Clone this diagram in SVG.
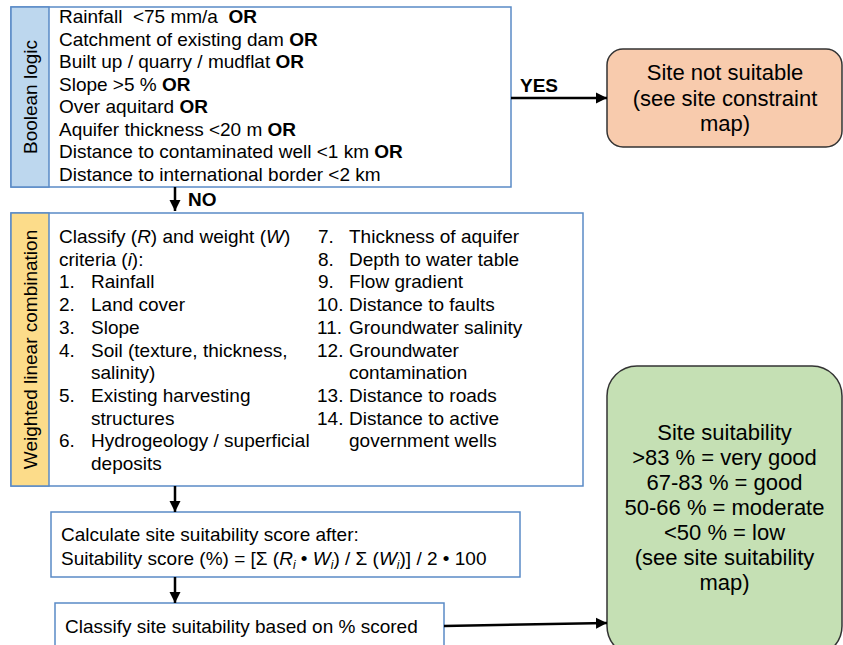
<svg xmlns="http://www.w3.org/2000/svg" width="843" height="645" viewBox="0 0 843 645">
<style>
text{font-family:"Liberation Sans",Arial,sans-serif;fill:#000;white-space:pre}
.t{font-size:19px}
.b{font-weight:bold}
.big{font-size:22px;text-anchor:middle}
.box{fill:#fff;stroke:#5a8ac6;stroke-width:1.5}
.blue{fill:#bdd7ee;stroke:#5a8ac6;stroke-width:1.5}
.yel{fill:#fcdc8a;stroke:#5a8ac6;stroke-width:1.5}
.round{stroke:#333;stroke-width:1.5}
.arr{stroke:#000;stroke-width:2.5;fill:none;marker-end:url(#ah)}
</style>
<defs>
<marker id="ah" markerUnits="userSpaceOnUse" markerWidth="12" markerHeight="12" viewBox="0 0 12 12" refX="11" refY="6" orient="auto">
<path d="M0,0.5 L11,6 L0,11.5 Z" fill="#000"/>
</marker>
</defs>
<rect width="843" height="645" fill="#fff"/>

<g id="boolean">
<rect class="box" x="11" y="7" width="500" height="180"/>
<rect class="blue" x="11" y="7" width="38" height="180"/>
<text class="t" transform="translate(37,97) rotate(-90)" text-anchor="middle">Boolean logic</text>
<text class="t" x="59" y="23">Rainfall  &lt;75 mm/a  <tspan class="b">OR</tspan></text>
<text class="t" x="59" y="45.5">Catchment of existing dam <tspan class="b">OR</tspan></text>
<text class="t" x="59" y="68">Built up / quarry / mudflat <tspan class="b">OR</tspan></text>
<text class="t" x="59" y="90.5">Slope &gt;5 % <tspan class="b">OR</tspan></text>
<text class="t" x="59" y="113">Over aquitard <tspan class="b">OR</tspan></text>
<text class="t" x="59" y="135.5">Aquifer thickness &lt;20 m <tspan class="b">OR</tspan></text>
<text class="t" x="59" y="158">Distance to contaminated well &lt;1 km <tspan class="b">OR</tspan></text>
<text class="t" x="59" y="180.5">Distance to international border &lt;2 km</text>
</g>

<g id="not-suitable">
<rect class="round" x="607" y="49" width="235" height="98" rx="16" fill="#f8cbad"/>
<text class="big" x="725" y="80">Site not suitable</text>
<text class="big" x="725" y="106">(see site constraint</text>
<text class="big" x="725" y="131">map)</text>
</g>

<g id="wlc">
<rect class="box" x="11" y="213" width="572" height="273"/>
<rect class="yel" x="11" y="213" width="38" height="273"/>
<text class="t" transform="translate(37,349.5) rotate(-90)" text-anchor="middle">Weighted linear combination</text>
<text class="t" x="59" y="243">Classify (<tspan font-style="italic">R</tspan>) and weight (<tspan font-style="italic">W</tspan>)</text>
<text class="t" x="59" y="265.7">criteria (<tspan font-style="italic">i</tspan>):</text>
<text class="t" x="59" y="288.4">1.</text><text class="t" x="91" y="288.4">Rainfall</text>
<text class="t" x="59" y="311.1">2.</text><text class="t" x="91" y="311.1">Land cover</text>
<text class="t" x="59" y="333.8">3.</text><text class="t" x="91" y="333.8">Slope</text>
<text class="t" x="59" y="356.5">4.</text><text class="t" x="91" y="356.5">Soil (texture, thickness,</text>
<text class="t" x="91" y="379.2">salinity)</text>
<text class="t" x="59" y="401.9">5.</text><text class="t" x="91" y="401.9">Existing harvesting</text>
<text class="t" x="91" y="424.6">structures</text>
<text class="t" x="59" y="447.3">6.</text><text class="t" x="91" y="447.3">Hydrogeology / superficial</text>
<text class="t" x="91" y="470">deposits</text>
<text class="t" x="318" y="243">7.</text><text class="t" x="349" y="243">Thickness of aquifer</text>
<text class="t" x="318" y="265.7">8.</text><text class="t" x="349" y="265.7">Depth to water table</text>
<text class="t" x="318" y="288.4">9.</text><text class="t" x="349" y="288.4">Flow gradient</text>
<text class="t" x="317" y="311.1">10.</text><text class="t" x="349" y="311.1">Distance to faults</text>
<text class="t" x="317" y="333.8">11.</text><text class="t" x="349" y="333.8">Groundwater salinity</text>
<text class="t" x="317" y="356.5">12.</text><text class="t" x="349" y="356.5">Groundwater</text>
<text class="t" x="349" y="379.2">contamination</text>
<text class="t" x="317" y="401.9">13.</text><text class="t" x="349" y="401.9">Distance to roads</text>
<text class="t" x="317" y="424.6">14.</text><text class="t" x="349" y="424.6">Distance to active</text>
<text class="t" x="349" y="447.3">government wells</text>
</g>

<g id="calc">
<rect class="box" x="51" y="512" width="469" height="65"/>
<text class="t" x="61" y="541">Calculate site suitability score after:</text>
<text class="t" x="61" y="565">Suitability score (%) = [Σ (<tspan font-style="italic">R</tspan><tspan font-style="italic" font-size="12" dy="4">i</tspan><tspan dy="-4"> • </tspan><tspan font-style="italic">W</tspan><tspan font-style="italic" font-size="12" dy="4">i</tspan><tspan dy="-4">) / Σ (</tspan><tspan font-style="italic">W</tspan><tspan font-style="italic" font-size="12" dy="4">i</tspan><tspan dy="-4">)] / 2 • 100</tspan></text>
</g>

<g id="classify">
<rect class="box" x="55" y="603" width="389" height="60"/>
<text class="t" x="65" y="633">Classify site suitability based on % scored</text>
</g>

<g id="suitability">
<rect class="round" x="607" y="366" width="235" height="290" rx="30" fill="#c5e0b4"/>
<text class="big" x="724.5" y="440">Site suitability</text>
<text class="big" x="724.5" y="465">&gt;83 % = very good</text>
<text class="big" x="724.5" y="490">67-83 % = good</text>
<text class="big" x="724.5" y="515">50-66 % = moderate</text>
<text class="big" x="724.5" y="540">&lt;50 % = low</text>
<text class="big" x="724.5" y="565">(see site suitability</text>
<text class="big" x="724.5" y="590">map)</text>
</g>

<g id="connectors">
<path class="arr" d="M511,98 L607,98"/>
<text class="t b" x="520" y="92">YES</text>
<path class="arr" d="M175,187 L175,211"/>
<text class="t b" x="188" y="206">NO</text>
<path class="arr" d="M175,486 L175,512"/>
<path class="arr" d="M175,577 L175,603"/>
<path class="arr" d="M444,626 L607,623"/>
</g>
</svg>
